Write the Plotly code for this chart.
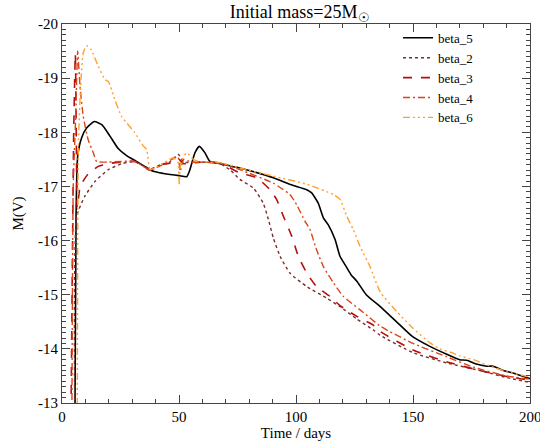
import plotly.graph_objects as go

##### Data (time in days, M(V)) #####

beta_5_t = [5.5, 6.0, 6.7, 8.4, 10.5, 13.8, 17.0, 20.5, 24.0, 27.6, 31.5, 35.0, 39.0, 43.3, 46.2, 50.0, 53.3, 54.6, 56.8, 58.7, 61.1, 63.2, 67.5,
            76.0, 82.0, 90.3, 98.0, 104.6, 106.7, 109.5, 111.7, 113.8, 116.7, 118.8, 121.0, 123.5, 126.0, 130.0, 136.0, 140.0,
            143.0, 150.0, 157.0, 164.4, 170.0, 173.0, 177.0, 181.5, 184.3, 188.6, 193.0, 200.0]
beta_5_m = [-12.5, -16.45, -17.56, -17.9, -18.08, -18.2, -18.14, -17.93, -17.7, -17.57, -17.47, -17.38, -17.28, -17.24, -17.22, -17.2, -17.18, -17.3, -17.62, -17.74, -17.62, -17.46, -17.42,
            -17.34, -17.27, -17.16, -17.03, -16.94, -16.88, -16.69, -16.42, -16.29, -16.02, -15.71, -15.55, -15.37, -15.25, -15.0, -14.78, -14.62,
            -14.5, -14.22, -14.05, -13.9, -13.8, -13.79, -13.72, -13.68, -13.68, -13.6, -13.55, -13.45]

beta_2_t = [5.5, 6.3, 9.8, 14.1, 19.8, 25.5, 31.0, 37.6, 42.0, 46.0, 49.7, 52.0, 60.0, 67.5, 72.0, 76.0, 81.8, 86.0, 88.2, 90.3,
            93.2, 97.4, 104.6, 113.0, 118.8, 126.0, 133.0, 136.0, 150.0, 164.4, 178.6, 190.0, 200.0]
beta_2_m = [-12.5, -16.45, -16.82, -17.09, -17.31, -17.42, -17.46, -17.32, -17.4, -17.45, -17.59, -17.45, -17.45, -17.42, -17.3, -17.13, -16.97, -16.69, -16.39, -16.05,
            -15.71, -15.4, -15.15, -14.94, -14.78, -14.55, -14.35, -14.25, -13.93, -13.74, -13.6, -13.47, -13.38]

beta_3_t = [3.8, 5.0, 5.7, 6.2, 6.5, 7.8, 11.0, 15.5, 21.2, 31.2, 37.6, 41.0, 45.0, 48.0, 50.0, 52.0, 60.0, 67.5, 76.0, 83.2,
            88.9, 91.7, 94.6, 98.2, 101.0, 104.6, 108.8, 114.5, 118.8, 126.0, 133.0, 136.0, 150.0, 164.4, 178.6, 190.0, 200.0]
beta_3_m = [-12.5, -18.0, -19.45, -17.5, -16.6, -17.0, -17.22, -17.37, -17.43, -17.46, -17.3, -17.4, -17.42, -17.45, -17.5, -17.42, -17.45, -17.43, -17.25, -17.16,
            -16.94, -16.76, -16.45, -16.08, -15.71, -15.4, -15.15, -14.97, -14.8, -14.6, -14.44, -14.32, -13.98, -13.76, -13.6, -13.49, -13.42]

beta_4_t = [4.2, 4.8, 5.8, 6.4, 6.7, 7.7, 9.1, 11.2, 13.4, 14.8, 19.8, 31.2, 37.6, 40.5, 45.0, 49.5, 50.5, 52.0, 55.0, 60.0, 67.5,
            76.0, 90.3, 97.4, 100.3, 103.8, 106.0, 108.8, 111.7, 116.0, 120.2, 127.4, 136.0, 140.0, 150.0, 164.0, 176.0, 190.0, 200.0]
beta_4_m = [-12.5, -17.0, -18.23, -19.16, -19.5, -18.85, -18.29, -17.86, -17.62, -17.46, -17.45, -17.46, -17.3, -17.35, -17.45, -17.55, -17.28, -17.5, -17.45, -17.45, -17.43,
            -17.31, -17.06, -16.85, -16.66, -16.36, -16.2, -15.83, -15.52, -15.22, -14.97, -14.72, -14.42, -14.32, -14.1, -13.86, -13.66, -13.5, -13.44]

beta_6_t = [6.5, 7.0, 8.1, 9.1, 10.5, 12.4, 15.5, 18.4, 19.8, 22.6, 25.5, 31.0, 34.7, 36.2, 37.6, 40.5, 43.3, 47.5, 49.5, 50.1, 50.8,
            53.3, 56.1, 58.7, 67.5, 76.0, 90.3, 104.6, 116.0, 118.8, 121.7, 124.5, 127.4, 131.6, 136.0, 143.0, 150.0, 157.3,
            161.5, 167.2, 170.0, 175.8, 182.9, 190.0, 200.0]
beta_6_m = [-12.5, -17.74, -18.97, -19.47, -19.6, -19.53, -19.22, -18.97, -18.94, -18.6, -18.29, -18.0, -17.75, -17.68, -17.31, -17.36, -17.43, -17.53, -17.45, -17.02, -17.45,
            -17.62, -17.5, -17.46, -17.44, -17.34, -17.19, -17.04, -16.85, -16.76, -16.45, -16.2, -15.89, -15.52, -15.05, -14.69, -14.38, -14.11,
            -14.0, -13.92, -13.87, -13.8, -13.68, -13.58, -13.48]

x_ticks = [0, 50, 100, 150, 200]
y_ticks = [-20, -19, -18, -17, -16, -15, -14, -13]

series = [
    ("beta_5", beta_5_t, beta_5_m, "#000000", "solid", 1.6),
    ("beta_2", beta_2_t, beta_2_m, "#7b2c2c", "dot", 1.4),
    ("beta_3", beta_3_t, beta_3_m, "#b30f0f", "dash", 1.6),
    ("beta_4", beta_4_t, beta_4_m, "#dc4418", "7px,3px,2px,3px", 1.4),
    ("beta_6", beta_6_t, beta_6_m, "#ffa030", "7px,3px,2px,3px,2px,3px,2px,3px", 1.4),
]

fig = go.Figure()
for name, t, m, color, dash, width in series:
    fig.add_trace(go.Scatter(
        x=t, y=m, mode="lines", name=name,
        line=dict(color=color, dash=dash, width=width, shape="spline", smoothing=0.5)
    ))

serif = "Liberation Serif"

fig.update_layout(
    width=540, height=442,
    margin=dict(l=62, r=10, t=24, b=39),
    paper_bgcolor="white", plot_bgcolor="white",
    font=dict(family=serif, size=15, color="black"),
    title=dict(text="Initial mass=25M<sub>☉</sub>", x=0.555, xanchor="center", y=0.987, yanchor="top",
               font=dict(family=serif, size=18, color="black")),
    showlegend=True,
    legend=dict(x=0.718, y=1.003, xanchor="left", yanchor="top", bgcolor="rgba(0,0,0,0)",
                font=dict(family=serif, size=13), tracegroupgap=0, itemwidth=30),
)

fig.update_xaxes(
    range=[0, 200], tickmode="array", tickvals=x_ticks, ticktext=[str(v) for v in x_ticks],
    ticks="inside", ticklen=8, tickwidth=1, tickcolor="#444",
    tickfont=dict(family=serif, size=15),
    minor=dict(dtick=10, ticks="inside", ticklen=4, tickcolor="#444"),
    mirror="allticks", showline=True, linecolor="#444", linewidth=1,
    showgrid=False, zeroline=False, automargin=False,
    title=dict(text="Time / days", standoff=0, font=dict(family=serif, size=15)),
)
fig.update_yaxes(
    range=[-13, -20], tickmode="array", tickvals=y_ticks, ticktext=[str(v) for v in y_ticks],
    ticks="inside", ticklen=8, tickwidth=1, tickcolor="#444",
    tickfont=dict(family=serif, size=15),
    minor=dict(tick0=-20, dtick=0.1, ticks="inside", ticklen=4, tickcolor="#444"),
    mirror="allticks", showline=True, linecolor="#444", linewidth=1,
    showgrid=False, zeroline=False, automargin=False,
    title=dict(text="M(V)", standoff=10, font=dict(family=serif, size=15)),
)

# plotly drops the last tick label because it runs past the page edge; the original shows it clipped
fig.add_annotation(x=x_ticks[-1], y=0, xref="x", yref="paper", yshift=-4, text=str(x_ticks[-1]),
                   showarrow=False, xanchor="center", yanchor="top", font=dict(family=serif, size=15))

# page body has a default 8px margin; drop it so the figure sits at the window corner
fig.write_html("out.html", config={"displayModeBar": False},
               post_script="document.body.style.margin = '0';")
